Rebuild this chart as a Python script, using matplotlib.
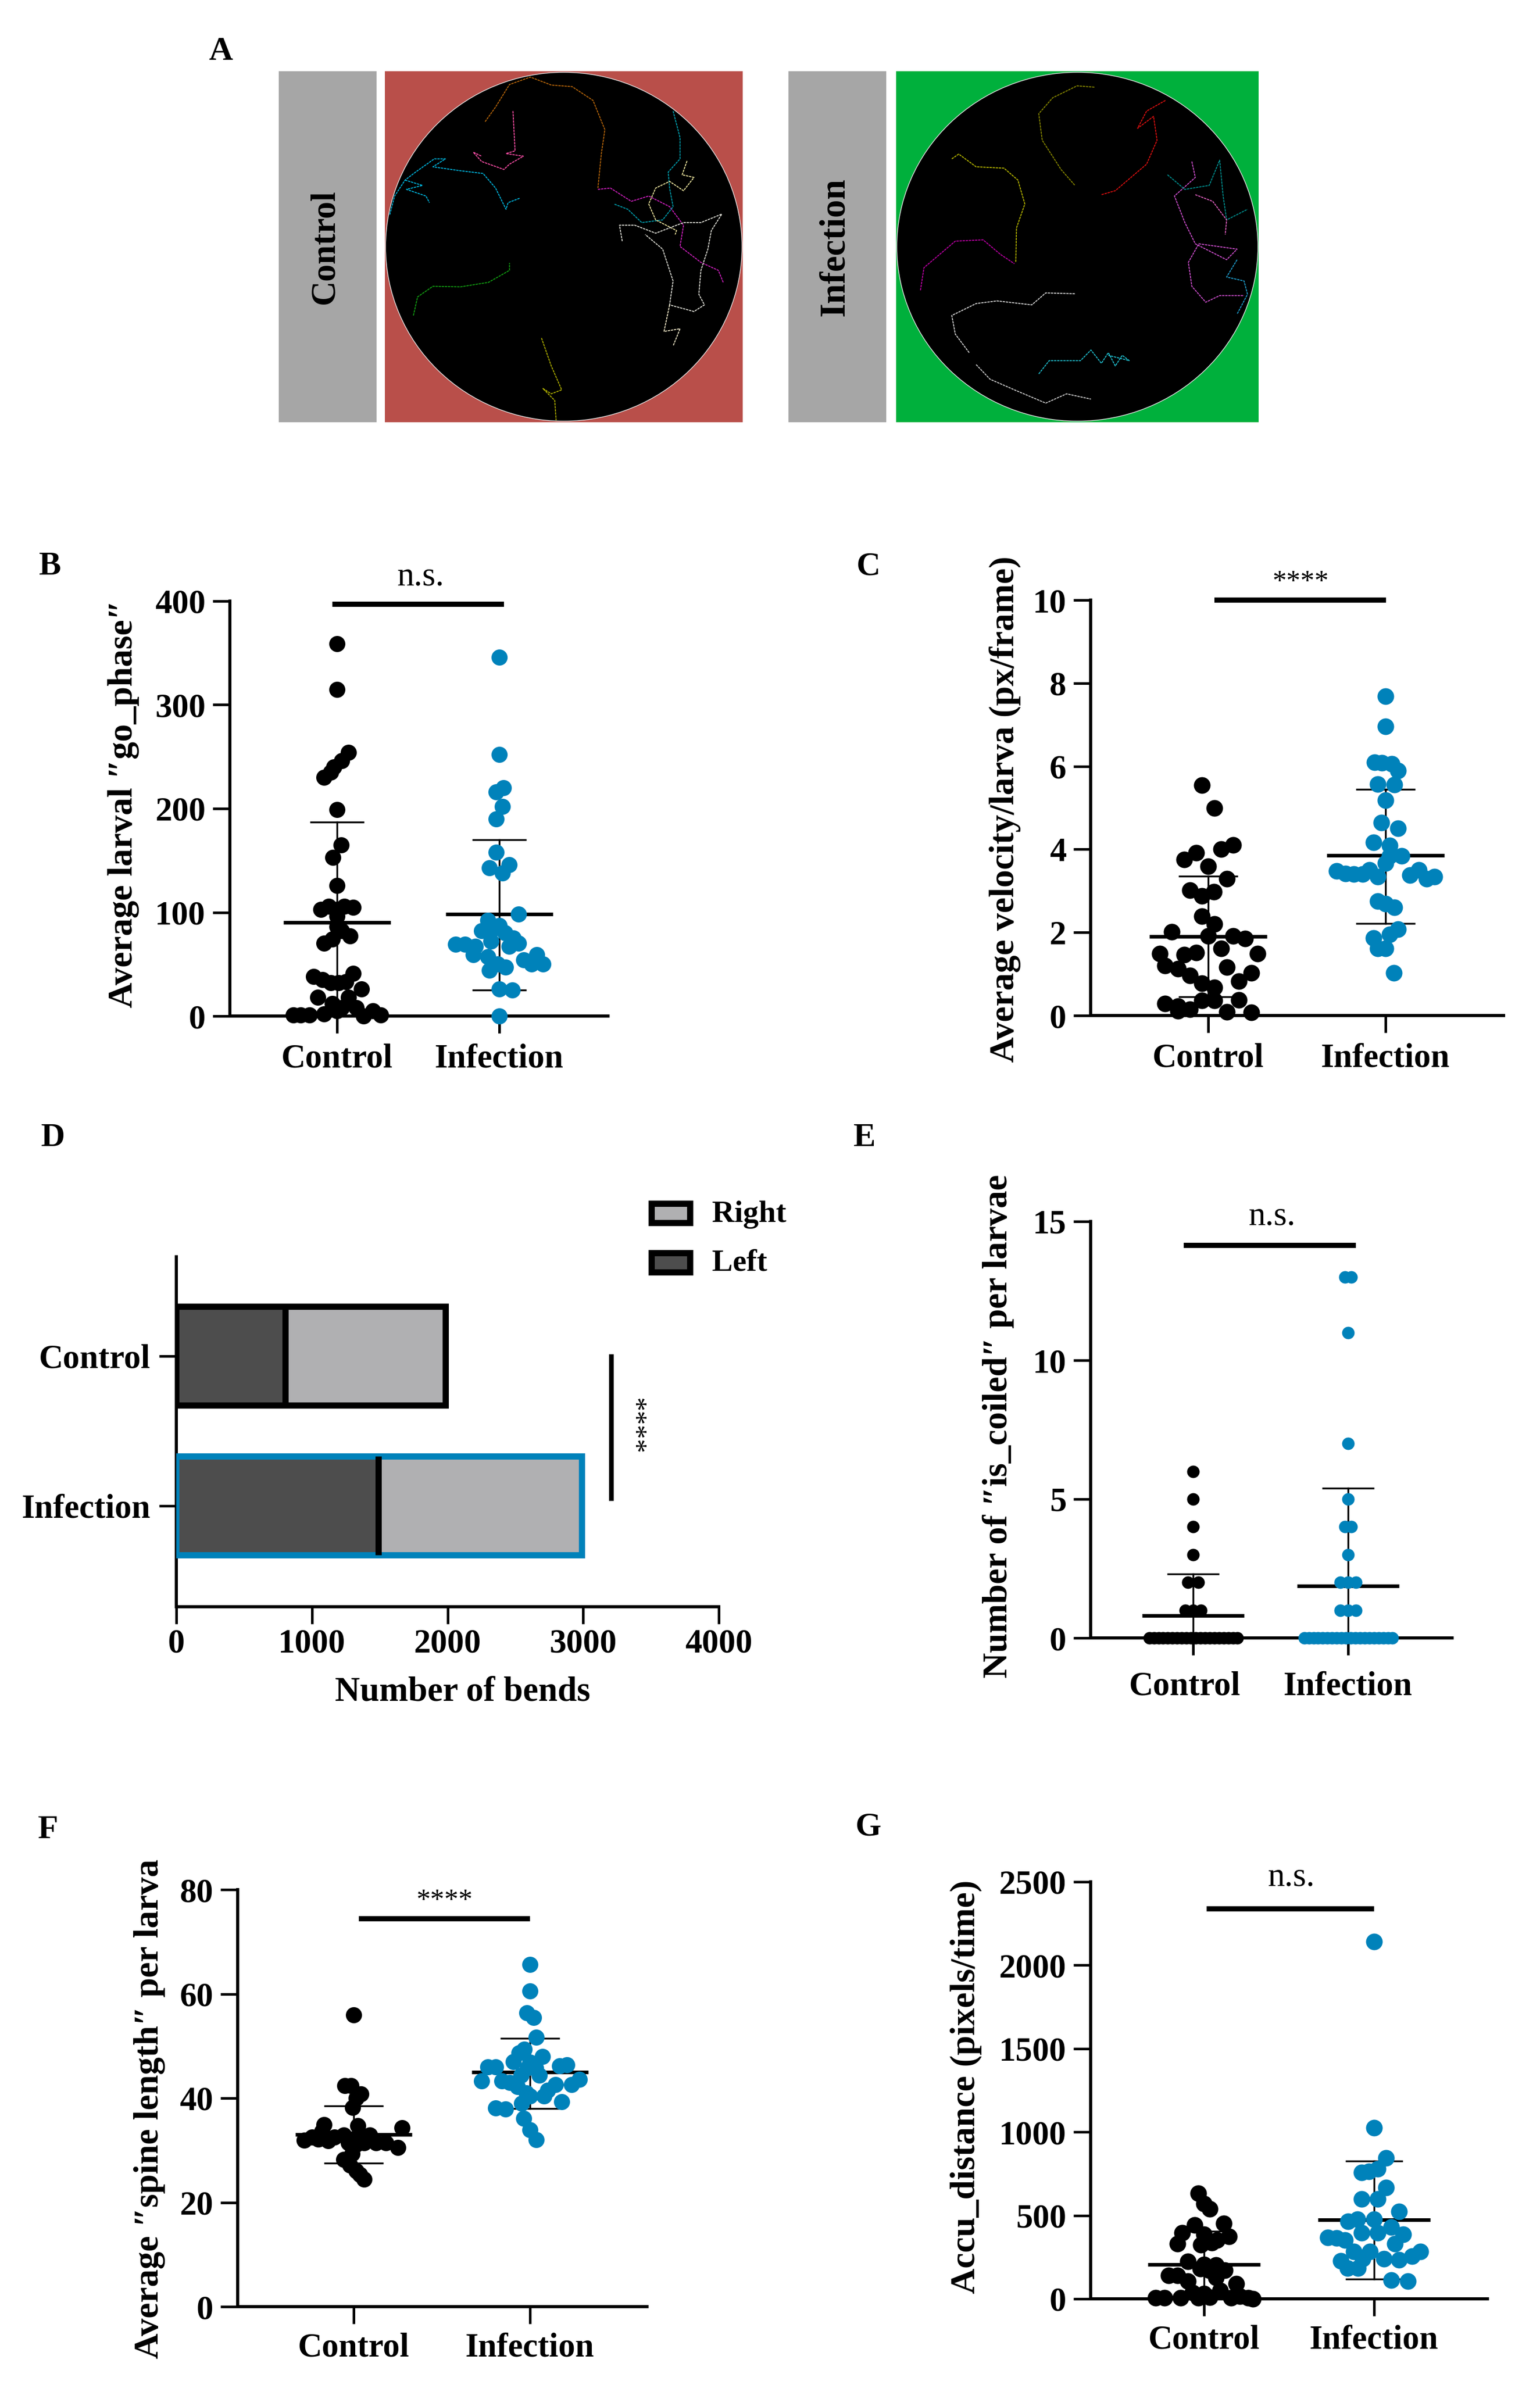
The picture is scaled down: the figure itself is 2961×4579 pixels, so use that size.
import matplotlib
matplotlib.use("Agg")
import matplotlib.pyplot as plt
from matplotlib.patches import Ellipse
from matplotlib.transforms import ScaledTranslation

plt.rcParams['font.family'] = ['Liberation Serif', 'DejaVu Serif']

W, H = 2961, 4579
BLUE = '#0082ba'
cats = ['Control', 'Infection']

# panel B, x values are the sideways spread around the category
b_ctrl_x = [0, 0, .07, .03, -.02, -.04, -.08, 0, .025, -.025, 0, -.10, -.05, 0, .045, .10, 0, 0, .08, .03, -.03, -.08,
            -.145, -.09, -.04, .01, .055, .10, .15, -.12, .07, -.27, -.225, -.17, -.08, -.03, .03, .118, .165, .22, .27, 0]
b_ctrl_y = [359, 315, 254, 246, 240, 235, 230, 199, 165, 153, 126, 103, 106, 103, 106, 105, 96, 86, 77, 82, 74, 70,
            38, 35, 32, 32, 33, 41, 26, 18, 18, 1, 1, 1, 2, 12, 8, 8, 0, 5, 1, 5]
b_inf_x = [0, 0, .025, -.02, .02, -.02, -.02, .06, -.06, .02, .12, -.07, 0, -.11, -.05, .035, .085, .12, -.27, -.21,
           -.147, -.05, .06, -.16, -.07, .23, .15, .2, .27, -.01, .04, -.06, 0, .08, 0]
b_inf_y = [346, 252, 220, 216, 202, 190, 158, 146, 143, 138, 98, 92, 87, 82, 82, 80, 75, 70, 69, 69,
           67, 72, 67, 59, 57, 59, 54, 50, 50, 50, 47, 44, 26, 25, 0]
b_stats = [(90, 187, 0), (98, 170, 25)]

# panel C
c_ctrl_x = [-.034, .034, .141, .073, -.066, -.136, 0, .107, -.102, .032, -.034, -.034, .034, -.204, 0, .141, .209, .073,
            -.066, -.136, -.272, .28, -.243, -.17, .105, -.102, .243, .173, -.034, .034, .173, .034, -.034, -.243,
            -.17, -.102, -.17, .105, .243]
c_ctrl_y = [5.54, 4.99, 4.11, 4.0, 3.92, 3.75, 3.59, 3.29, 3.02, 2.98, 2.88, 2.39, 2.2, 2.02, 1.91, 1.91, 1.85, 1.62,
            1.52, 1.47, 1.49, 1.49, 1.2, 1.13, 1.16, .96, 1.03, .82, .78, .68, .38, .36, .36, .29,
            .23, .15, .11, .09, .07]
c_inf_x = [0, 0, -.061, -.02, .034, .07, -.044, .049, 0, -.024, .07, -.068, .022, .09, .022, 0, -.275, -.226, -.178,
           -.092, -.044, -.129, .139, .187, .231, .277, -.044, 0, .049, .07, .022, -.068, -.044, 0, .046]
c_inf_y = [7.68, 6.96, 6.1, 6.08, 6.06, 5.89, 5.57, 5.56, 5.18, 4.64, 4.51, 4.17, 4.09, 3.84, 3.84, 3.67, 3.48, 3.42, 3.4,
           3.5, 3.34, 3.4, 3.38, 3.5, 3.29, 3.34, 2.75, 2.69, 2.6, 2.08, 1.95, 1.87, 1.62, 1.62, 1.03]
c_stats = [(1.9, 3.35, .45), (3.85, 5.45, 2.22)]

# panel D
d_left = [807, 1490]
d_total = [1985, 2990]

# panel E
e_ctrl_x = [0, 0, 0, 0, -.035, .035, -.05, 0, .05,
            -.283, -.253, -.223, -.193, -.163, -.133, -.103, -.073, -.043, -.013,
            .017, .047, .077, .107, .137, .167, .197, .227, .257, .286]
e_ctrl_y = [6, 5, 4, 3, 2, 2, 1, 1, 1,
            0, 0, 0, 0, 0, 0, 0, 0, 0, 0, 0, 0, 0, 0, 0, 0, 0, 0, 0, 0]
e_inf_x = [-.02, .02, 0, 0, 0, -.02, .02, 0, -.05, 0, .05, -.05, 0, .05,
           -.283, -.253, -.223, -.193, -.163, -.133, -.103, -.073, -.043, -.013,
           .017, .047, .077, .107, .137, .167, .197, .227, .257, .286]
e_inf_y = [13, 13, 11, 7, 5, 4, 4, 3, 2, 2, 2, 1, 1, 1,
           0, 0, 0, 0, 0, 0, 0, 0, 0, 0, 0, 0, 0, 0, 0, 0, 0, 0, 0, 0]
e_stats = [(.8, 2.3, 0), (1.88, 5.4, 0)]

# panel F
f_ctrl_x = [0, -.05, -.015, .04, .014, -.005, .275, -.167, .025, -.28, -.235, -.2, -.145, -.18, -.11, -.055, -.01, .035,
            .09, .127, .183, .25, .06, .014, -.03, -.01, -.055, -.02, .014, .036, .06]
f_ctrl_y = [56, 42.4, 42.4, 40.8, 40, 38.2, 34.3, 34.9, 34.7, 31.9, 32.5, 32.1, 31.8, 33.6, 32.5, 32.9, 32.1, 32.9,
            32.9, 31.4, 31.4, 30.5, 31.4, 31.1, 31.4, 29.3, 28.2, 27.1, 26, 25.3, 24.4]
f_inf_x = [0, 0, -.018, .02, .036, -.032, -.063, -.093, .07, 0, -.24, -.195, .167, .208, -.274, -.16, -.115, -.07, -.014,
           .032, .054, -.05, .145, .235, .281, -.048, 0, .08, .18, -.195, -.14, -.036, 0, .036, .1, -.02]
f_inf_y = [65.6, 60.5, 56.4, 55.5, 51.7, 49.4, 48.7, 47, 48, 46.9, 46, 46, 46.2, 46.4, 43.3, 43.3, 43, 42.2, 45.8,
           45.8, 44.4, 44.4, 42.6, 42.6, 43.6, 39, 40.4, 40.4, 39.3, 38.1, 37.9, 36.1, 33.9, 32, 41.5, 41]
f_stats = [(33, 38.5, 27.5), (45, 51.5, 38)]

# panel G
g_ctrl_x = [-.035, 0, .035, .116, -.056, -.127, .147, 0, .076, -.157, -.018, .046, -.094, 0, .071, .122, -.208, -.157,
            .071, -.094, .19, -.068, .096, -.284, -.233, -.137, -.035, .033, .16, .26, .286, .21, 0, -.02, .03]
g_ctrl_y = [633, 570, 539, 453, 442, 397, 375, 386, 352, 330, 323, 337, 224, 206, 202, 173, 139, 139,
            128, 105, 90, 38, 49, 5, 5, 5, 5, 9, 5, 5, 0, 16, 30, 180, 170]
g_inf_x = [0, 0, .071, .02, -.03, -.073, .071, .02, -.073, .147, -.152, -.099, 0, .101, -.073, .02, .172, -.271, -.22,
           -.17, .122, -.119, -.023, .273, .223, -.195, -.068, .058, .147, -.157, -.094, .101, .198]
g_inf_y = [2141, 1026, 846, 779, 763, 756, 667, 599, 599, 525, 465, 476, 476, 431, 397, 397, 386, 368, 364,
           352, 330, 285, 285, 285, 256, 229, 240, 240, 233, 184, 184, 112, 105]
g_stats = [(205, 405, 0), (475, 825, 120)]

# panel A tracks, read in the coordinates of the arena picture
t_orange = [(435, 400), (450, 345), (470, 260), (500, 232), (530, 262), (560, 268), (590, 320), (607, 430), (602, 520), (597, 650)]
t_pink = [(475, 360), (477, 460), (478, 510), (465, 520), (490, 530), (470, 560), (462, 580), (430, 550), (418, 515), (430, 530)]
t_blue = [(298, 750), (305, 680), (320, 620), (335, 590), (362, 540), (378, 540), (360, 570), (400, 585), (432, 595), (450, 650), (465, 730), (468, 705), (485, 688)]
t_blue2 = [(320, 620), (345, 640), (322, 655), (350, 680), (355, 705)]
t_green = [(332, 1130), (338, 1060), (360, 1020), (400, 1022), (440, 1005), (470, 960), (470, 932)]
t_olive = [(516, 1215), (530, 1320), (545, 1410), (530, 1425), (518, 1405), (535, 1450), (537, 1525)]
t_magenta = [(597, 655), (615, 650), (645, 700), (670, 680), (700, 720), (720, 790), (715, 870), (745, 930), (770, 960), (777, 1005)]
t_teal = [(705, 360), (715, 460), (715, 540), (698, 590), (700, 650), (705, 720), (690, 770), (660, 780), (640, 730), (620, 710)]
t_pale = [(725, 548), (718, 600), (735, 610), (720, 660), (700, 625), (680, 650), (670, 710), (680, 770), (710, 810), (708, 825)]
t_grey = [(632, 850), (628, 790), (650, 790), (680, 820), (720, 780), (745, 780), (775, 748), (760, 810), (755, 880), (745, 960), (742, 1050), (750, 1090), (735, 1115), (700, 1090), (705, 1000), (690, 880), (665, 825)]
t_cream = [(700, 1090), (692, 1190), (715, 1180), (705, 1245)]

i_olive = [(1310, 270), (1285, 265), (1250, 310), (1230, 370), (1235, 470), (1262, 580), (1282, 640)]
i_red = [(1412, 320), (1385, 360), (1372, 425), (1395, 380), (1400, 470), (1385, 560), (1340, 660), (1320, 675)]
i_yellow = [(1105, 540), (1115, 522), (1140, 570), (1180, 575), (1200, 620), (1210, 710), (1198, 800), (1197, 930)]
i_magenta = [(1060, 1035), (1065, 950), (1110, 850), (1150, 845), (1175, 900), (1195, 935)]
i_pink = [(1450, 550), (1455, 610), (1425, 680), (1440, 780), (1455, 860), (1500, 920), (1515, 880), (1460, 860), (1445, 930), (1450, 1020), (1470, 1080), (1490, 1055), (1525, 1055)]
i_teal = [(1415, 600), (1440, 655), (1475, 640), (1490, 545), (1495, 680), (1500, 770), (1530, 730)]
i_pink2 = [(1455, 675), (1480, 700), (1500, 770), (1498, 825)]
i_cyan = [(1515, 920), (1500, 985), (1525, 1000), (1530, 1050), (1515, 1125)]
i_white = [(1130, 1270), (1110, 1200), (1105, 1130), (1140, 1085), (1170, 1075), (1220, 1090), (1240, 1045), (1282, 1048)]
i_cluster = [(1230, 1350), (1245, 1300), (1290, 1300), (1305, 1260), (1320, 1310), (1330, 1270), (1340, 1320), (1350, 1280), (1360, 1300), (1330, 1280)]
i_white2 = [(1140, 1315), (1160, 1370), (1195, 1410), (1240, 1460), (1270, 1425), (1305, 1445)]

ctrl_tracks = [(t_orange, '#b8660a'), (t_pink, '#ff4fa8'), (t_blue, '#00b7e0'), (t_blue2, '#00b7e0'), (t_green, '#12a012'),
               (t_olive, '#b0b000'), (t_magenta, '#d020c0'), (t_teal, '#00a0b0'), (t_pale, '#f0e8a0'),
               (t_grey, '#e0e0d8'), (t_cream, '#f0e8c8')]
inf_tracks = [(i_olive, '#8a8a00'), (i_red, '#e01010'), (i_yellow, '#b8b800'), (i_magenta, '#c000a8'), (i_pink, '#d050d0'),
              (i_teal, '#009090'), (i_pink2, '#e060c0'), (i_cyan, '#20a0d0'), (i_white, '#d8d8d8'),
              (i_cluster, '#20c0d0'), (i_white2, '#d0d0d0')]


def px(v):
    return v * 0.72


fig = plt.figure(figsize=(W / 100, H / 100), dpi=100, facecolor='white')


def box(left, right, top, bottom):
    return fig.add_axes([left / W, 1 - bottom / H, (right - left) / W, (bottom - top) / H])


def label(x, y, s, **kw):
    kw.setdefault('fontsize', 46)
    kw.setdefault('fontweight', 'bold')
    fig.text(x / W, 1 - y / H, s, ha='center', va='center', **kw)


def style(ax, xpad=14, ypad=10):
    for side in ['top', 'right']:
        ax.spines[side].set_visible(False)
    for side in ['left', 'bottom']:
        ax.spines[side].set_linewidth(px(6))
    ax.tick_params(width=px(5), length=px(33), labelsize=46.5)
    ax.tick_params(axis='x', pad=xpad)
    ax.tick_params(axis='y', pad=ypad)
    for t in ax.get_xticklabels() + ax.get_yticklabels():
        t.set_fontweight('bold')


def swarm(rect, cx, yticks, series, stats, sig, yname, ylab_xy, dot=31, xpad=14):
    left, right, top, bottom = rect
    ax = box(left, right, top, bottom)
    step = cx[1] - cx[0]
    ax.set_xlim(1 - (cx[0] - left) / step, 2 + (right - cx[1]) / step)
    ax.set_ylim(0, yticks[-1])
    ax.set_xticks([1, 2], cats)
    ax.set_yticks(yticks)
    style(ax, xpad=xpad)
    colors = ['black', BLUE]
    for i, (xs, ys) in enumerate(series):
        c = i + 1
        m, up, lo = stats[i]
        ax.plot([c, c], [lo, up], color='black', lw=2.5, zorder=3, clip_on=False)
        ax.plot([c - .33, c + .33], [m, m], color='black', lw=5, zorder=3, solid_capstyle='butt')
        for v in (up, lo):
            if v > 0:
                ax.plot([c - .168, c + .168], [v, v], color='black', lw=2.5, zorder=3, solid_capstyle='butt')
        ax.scatter([c + x for x in xs], ys, s=px(dot) ** 2, color=colors[i], linewidths=0, zorder=4, clip_on=False)
    x0, x1, yy = sig
    ax.plot([x0, x1], [yy, yy], color='black', lw=px(10), solid_capstyle='butt', clip_on=False, zorder=5)
    label(ylab_xy[0], ylab_xy[1], yname, rotation=90, fontsize=49)
    return ax


# panel A
for rect, bg, xl, tracks, name, name_x, name_size in [
        ((740, 1428, 137, 812), '#b94f4a', (291, 805), ctrl_tracks, 'Control', 622, 48),
        ((1723, 2420, 137, 812), '#00b03c', (1025, 1546), inf_tracks, 'Infection', 1602, 50)]:
    ax = box(*rect)
    ax.set_facecolor(bg)
    ax.set_xlim(*xl)
    ax.set_ylim(1532, 210)
    ax.set_xticks([])
    ax.set_yticks([])
    for s in ax.spines.values():
        s.set_visible(False)
    mid = (xl[0] + xl[1]) / 2
    ax.add_patch(Ellipse((mid, 871), xl[1] - xl[0] - 2, 1314, facecolor='black', edgecolor='#e8e8e8', lw=1))
    for pts, col in tracks:
        ax.plot([p[0] for p in pts], [p[1] for p in pts], color=col, lw=1.3, ls=(0, (2.5, 0.8)))
    grey = box(name_x - 86, name_x + 102, 137, 812)
    grey.set_facecolor('#a6a6a6')
    grey.set_xticks([])
    grey.set_yticks([])
    for s in grey.spines.values():
        s.set_visible(False)
    label(name_x + 3, 475, name, rotation=90, fontsize=name_size)

# panel letters
for xx, yy, s in [(424, 100, 'A'), (96, 1090, 'B'), (1670, 1090, 'C'), (102, 2189, 'D'),
                  (1662, 2189, 'E'), (92, 3520, 'F'), (1670, 3514, 'G')]:
    label(xx, yy, s)

swarm((442, 1169, 1156, 1954), (648, 960), [0, 100, 200, 300, 400],
      [(b_ctrl_x, b_ctrl_y), (b_inf_x, b_inf_y)], b_stats, (.97, 2.03, 397),
      'Average larval \u2033go_phase\u2033', (237, 1546))
label(809, 1110, 'n.s.', fontweight='normal', fontsize=47)

swarm((2097, 2891, 1154, 1953), (2323, 2664), [0, 2, 4, 6, 8, 10],
      [(c_ctrl_x, c_ctrl_y), (c_inf_x, c_inf_y)], c_stats, (1.035, 2.003, 10),
      'Average velocity/larva (px/frame)', (1932, 1556), dot=32)
label(2501, 1121, '****', fontweight='normal', fontsize=39)

ax_e = swarm((2097, 2792, 2349, 3150), (2294, 2592), [0, 5, 10, 15],
             [(e_ctrl_x, e_ctrl_y), (e_inf_x, e_inf_y)], e_stats, (.94, 2.05, 14.14),
             'Number of \u2033is_coiled\u2033 per larvae', (1919, 2743), dot=24, xpad=22)
# the Control label sits a little left of its tick in this panel
ctrl_tick_label = ax_e.get_xticklabels()[0]
ctrl_tick_label.set_transform(ctrl_tick_label.get_transform() + ScaledTranslation(-16 / 100, 0, fig.dpi_scale_trans))
label(2446, 2340, 'n.s.', fontweight='normal', fontsize=47)

swarm((457, 1244, 3634, 4436), (680, 1019), [0, 20, 40, 60, 80],
      [(f_ctrl_x, f_ctrl_y), (f_inf_x, f_inf_y)], f_stats, (1.03, 2.0, 74.4),
      'Average \u2033spine length\u2033 per larva', (287, 4056), xpad=12)
label(855, 3657, '****', fontweight='normal', fontsize=39)

swarm((2097, 2860, 3619, 4421), (2315, 2642), [0, 500, 1000, 1500, 2000, 2500],
      [(g_ctrl_x, g_ctrl_y), (g_inf_x, g_inf_y)], g_stats, (1.015, 2.0, 2338),
      'Accu_distance (pixels/time)', (1857, 4013), dot=32, xpad=12)
label(2483, 3611, 'n.s.', fontweight='normal', fontsize=47)

# panel D
ax = box(339, 1382, 2417, 3090)
ax.set_xlim(0, 4000)
ax.set_ylim(-.674, 1.663)
ypos = [1, 0]
edges = ['black', BLUE]
for i in range(2):
    ax.barh(ypos[i], d_left[i], height=.66, color='#4d4d4d', linewidth=0, zorder=2)
    ax.barh(ypos[i], d_total[i] - d_left[i], left=d_left[i], height=.66, color='#b0b0b2', linewidth=0, zorder=2)
    ax.barh(ypos[i], d_total[i], height=.66, facecolor='none', edgecolor=edges[i], linewidth=px(12), zorder=3)
    ax.plot([d_left[i], d_left[i]], [ypos[i] - .33, ypos[i] + .33], color='black', lw=px(12), solid_capstyle='butt', zorder=4)
ax.set_xticks([0, 1000, 2000, 3000, 4000])
ax.set_yticks(ypos, cats)
style(ax, xpad=6, ypad=12)
ax.plot([3205, 3205], [1.012, .036], color='black', lw=px(9), solid_capstyle='butt', clip_on=False)
label(1217, 2742, '****', rotation=270, fontweight='normal', fontsize=39)
label(890, 3254, 'Number of bends', fontsize=48)

# legend of panel D
for name, col, top in [('Right', '#b0b0b2', 2309), ('Left', '#4d4d4d', 2404)]:
    lg = box(1253, 1327, top + 6, top + 43)
    lg.set_facecolor(col)
    lg.set_xticks([])
    lg.set_yticks([])
    for s in lg.spines.values():
        s.set_linewidth(px(12))
    fig.text(1369 / W, 1 - (top + 27) / H, name, ha='left', va='center', fontsize=43, fontweight='bold')

fig.savefig('out.png', dpi=100)
